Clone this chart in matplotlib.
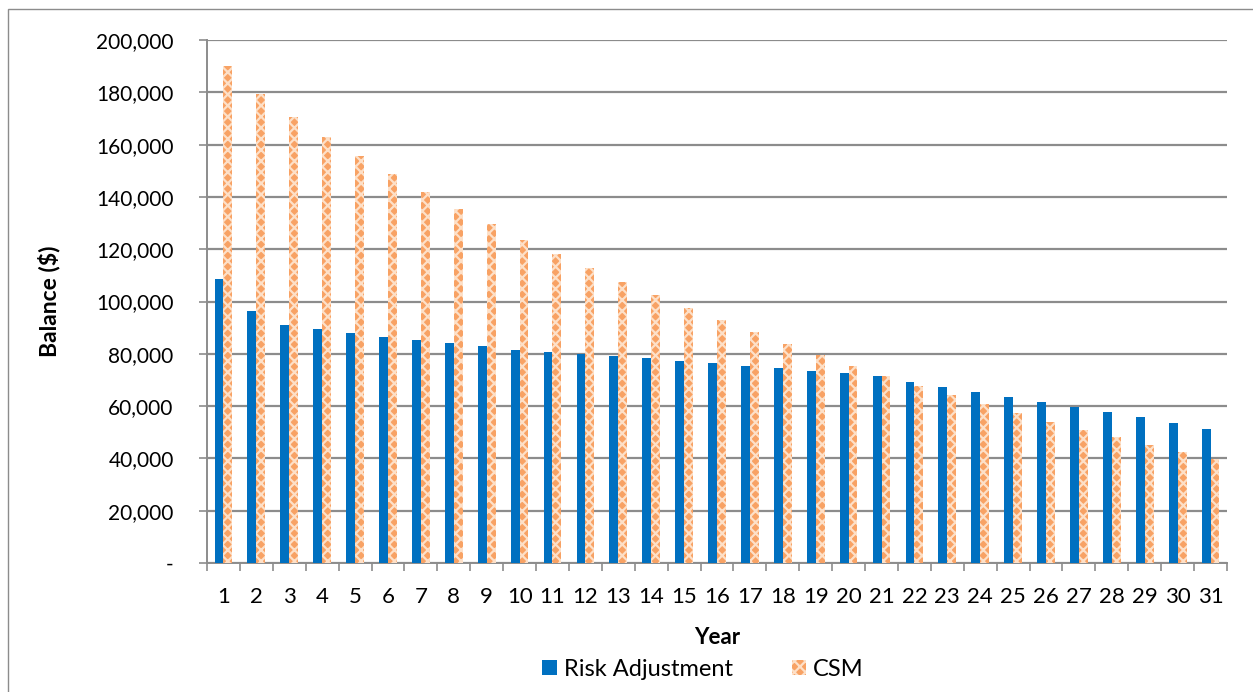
import matplotlib
matplotlib.use("Agg")
import matplotlib.pyplot as plt
from matplotlib.patches import Rectangle
from matplotlib.ticker import FuncFormatter, MultipleLocator
import numpy as np

years = list(range(1, 32))
risk_adjustment = [108.5, 96.4, 91.0, 89.4, 88.0, 86.4, 85.1, 84.0, 82.9, 81.6,
                   80.8, 80.0, 79.2, 78.3, 77.4, 76.5, 75.5, 74.5, 73.5, 72.5,
                   71.5, 69.4, 67.3, 65.4, 63.5, 61.7, 59.8, 57.9, 55.7, 53.4,
                   51.4]
csm = [190.2, 179.3, 170.7, 162.9, 155.5, 148.6, 141.9, 135.5, 129.5, 123.5,
       118.0, 112.7, 107.3, 102.4, 97.4, 92.8, 88.2, 83.7, 79.4, 75.5,
       71.5, 67.8, 64.1, 60.7, 57.4, 53.9, 50.9, 48.1, 45.1, 42.3,
       39.6]
risk_adjustment = [v * 1000 for v in risk_adjustment]
csm = [v * 1000 for v in csm]

plt.rcParams['font.family'] = ['Lato', 'DejaVu Sans']
plt.rcParams['hatch.linewidth'] = 1.6

W, H = 1253, 692
fig = plt.figure(figsize=(W / 100, H / 100), dpi=100)
ax = fig.add_axes([207 / W, 1 - 563 / H, (1227 - 207) / W, (563 - 40) / H])

x = np.arange(len(years))
w = 0.27
ax.bar(x - w / 2, risk_adjustment, width=w, color='#0070C0', zorder=3,
       label='Risk Adjustment')
ax.bar(x + w / 2, csm, width=w, color='#F8A264', edgecolor='#FDE0C8',
       hatch='xxx', linewidth=0, zorder=3, label='CSM')

ax.set_xlim(-0.5, len(years) - 0.5)
ax.set_ylim(0, 200000)
ax.yaxis.set_major_locator(MultipleLocator(20000))
ax.yaxis.set_major_formatter(FuncFormatter(lambda v, p: '-' if v == 0 else f'{int(v):,}'))
ax.set_xticks(x)
ax.set_xticklabels([str(y) for y in years])
ax.set_xticks(np.arange(-0.5, len(years), 1), minor=True)

grid_c = '#8C8C8C'
ax.grid(axis='y', color=grid_c, linewidth=1.6, zorder=0)
ax.set_axisbelow(True)
for s in ['top', 'right']:
    ax.spines[s].set_visible(False)
for s in ['left', 'bottom']:
    ax.spines[s].set_color(grid_c)
    ax.spines[s].set_linewidth(1.4)

ax.tick_params(axis='y', which='major', length=6, width=1.2, color=grid_c,
               pad=18, labelsize=15)
ax.tick_params(axis='x', which='major', length=0, pad=17, labelsize=16)
ax.tick_params(axis='x', which='minor', length=6, width=1.2, color=grid_c)

ax.set_xlabel('Year', fontsize=16, fontweight='bold', labelpad=15)
ax.set_ylabel('Balance ($)', fontsize=16.5, fontweight='bold', labelpad=26)

fig.legend(loc='center', bbox_to_anchor=(703 / W, 1 - 669 / H), ncol=2,
           frameon=False, fontsize=17, handlelength=0.6, handleheight=0.6,
           handletextpad=0.3, columnspacing=2.5)

fig.patches.append(Rectangle((8 / W, -0.1), 1.2, 1 - 9 / H + 0.1,
                             transform=fig.transFigure, fill=False,
                             edgecolor='#8C8C8C', linewidth=1.0))

fig.savefig('out.png', dpi=100)
